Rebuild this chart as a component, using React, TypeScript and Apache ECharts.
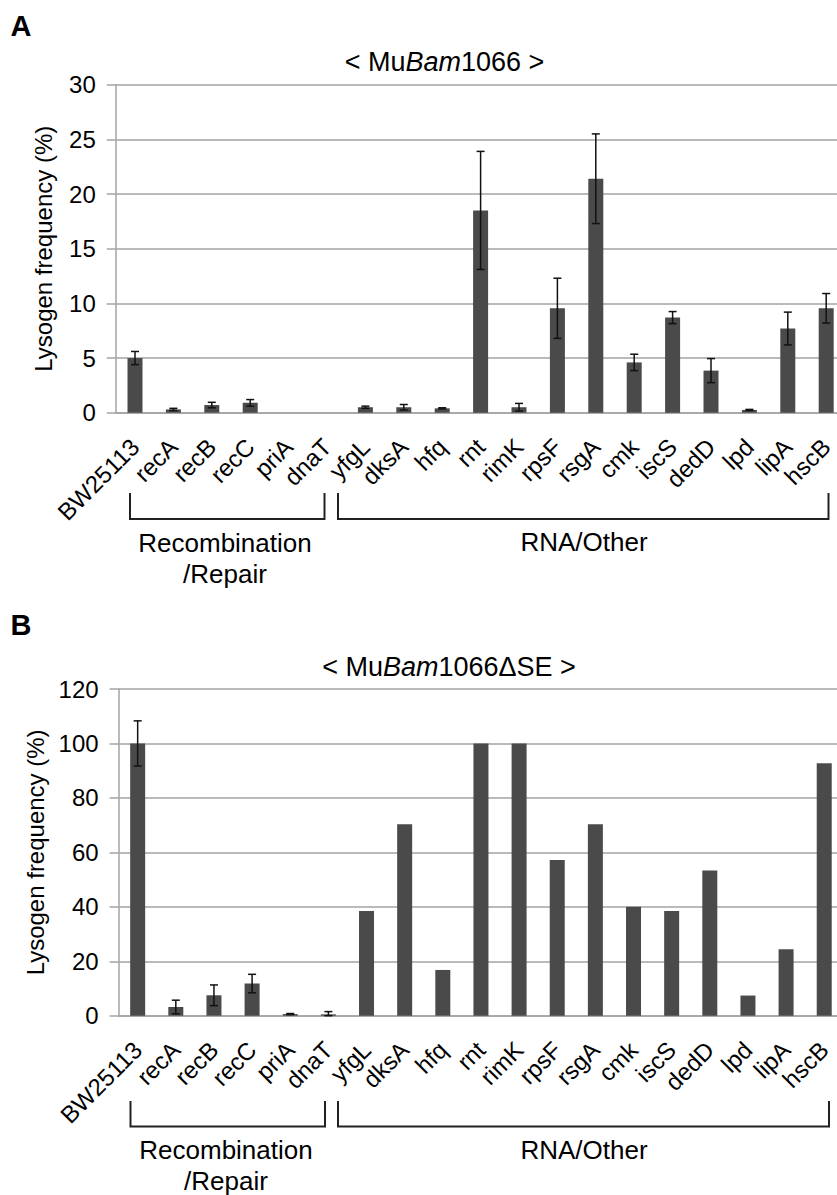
import React, { useEffect, useRef } from "react";
import * as echarts from "echarts";

const categories = ["BW25113", "recA", "recB", "recC", "priA", "dnaT", "yfgL", "dksA", "hfq", "rnt", "rimK", "rpsF", "rsgA", "cmk", "iscS", "dedD", "lpd", "lipA", "hscB"];

// Panel A: < MuBam1066 >
const valuesA = [5.0, 0.3, 0.7, 0.9, 0, 0, 0.5, 0.5, 0.4, 18.5, 0.5, 9.55, 21.4, 4.6, 8.7, 3.85, 0.25, 7.7, 9.55];
const errorsA = [0.6, 0.1, 0.25, 0.3, 0, 0, 0.1, 0.25, 0.05, 5.4, 0.35, 2.75, 4.1, 0.75, 0.55, 1.1, 0.05, 1.5, 1.35];

// Panel B: < MuBam1066ΔSE >
const valuesB = [100, 3.2, 7.5, 11.8, 0.6, 0.5, 38.5, 70.3, 16.8, 100, 100, 57.2, 70.3, 40, 38.5, 53.3, 7.4, 24.4, 92.7];
const errorsB = [8.3, 2.5, 3.8, 3.4, 0.2, 1.0, 0, 0, 0, 0, 0, 0, 0, 0, 0, 0, 0, 0, 0];

const yTicksA = { min: 0, max: 30, interval: 5 };
const yTicksB = { min: 0, max: 120, interval: 20 };

const groupLabels = ["Recombination\n/Repair", "RNA/Other"];

const FONT = 'Arial, "Liberation Sans", sans-serif';
const GRID_COLOR = "#a3a3a3";
const BAR_COLOR = "#4a4a4a";

function errorRenderItem(params: any, api: any) {
  const x = api.value(0);
  const v = api.value(1);
  const e = api.value(2);
  if (!e) return null;
  const top = api.coord([x, v + e]);
  const bot = api.coord([x, Math.max(0, v - e)]);
  const cap = 4;
  const style = { stroke: "#111", lineWidth: 1.5 };
  return {
    type: "group",
    children: [
      { type: "line", shape: { x1: top[0], y1: top[1], x2: bot[0], y2: bot[1] }, style },
      { type: "line", shape: { x1: top[0] - cap, y1: top[1], x2: top[0] + cap, y2: top[1] }, style },
      { type: "line", shape: { x1: bot[0] - cap, y1: bot[1], x2: bot[0] + cap, y2: bot[1] }, style },
    ],
  };
}

function yAxisCfg(gridIndex: number, t: any) {
  return {
    type: "value",
    gridIndex,
    min: t.min,
    max: t.max,
    interval: t.interval,
    name: "Lysogen frequency (%)",
    nameLocation: "middle",
    nameGap: 60,
    nameTextStyle: { fontSize: 24, color: "#000", fontFamily: FONT },
    axisLine: { show: true, lineStyle: { color: GRID_COLOR, width: 1.5 } },
    axisTick: { show: true, length: 9, lineStyle: { color: GRID_COLOR, width: 1.5 } },
    splitLine: { show: true, lineStyle: { color: GRID_COLOR, width: 1.5 } },
    axisLabel: { fontSize: 24, color: "#000", margin: 20, fontFamily: FONT },
  };
}

function xAxisCfg(gridIndex: number) {
  return {
    type: "category",
    gridIndex,
    data: categories,
    axisLine: { show: true, lineStyle: { color: GRID_COLOR, width: 1.5 } },
    axisTick: { show: false },
    axisLabel: { interval: 0, rotate: 45, fontSize: 24, color: "#000", margin: 30, fontFamily: FONT },
  };
}

function bracket(x1: number, x2: number, yTop: number, yBot: number) {
  return {
    type: "polyline",
    shape: { points: [[x1, yTop], [x1, yBot], [x2, yBot], [x2, yTop]] },
    style: { stroke: "#222", lineWidth: 2, fill: null },
  };
}

function txt(text: string, x: number, y: number, size: number, extra: any = {}) {
  return {
    type: "text",
    x,
    y,
    style: { text, fontSize: size, fill: "#000", fontFamily: FONT, align: "center", verticalAlign: "middle", ...extra },
  };
}

export default function App() {
  const ref = useRef<HTMLDivElement>(null);
  useEffect(() => {
    if (!ref.current) return;
    const chart = echarts.init(ref.current, null, { renderer: "svg" });
    const titleRich = {
      n: { fontSize: 27, fontFamily: FONT, fill: "#000" },
      i: { fontSize: 27, fontFamily: FONT, fontStyle: "italic", fill: "#000" },
    };
    const [recLabel, rnaLabel] = groupLabels;
    const recLines = recLabel.split("\n");
    chart.setOption({
      animation: false,
      grid: [
        { left: 115.8, top: 84.7, width: 729.6, height: 328 },
        { left: 118.6, top: 689, width: 724.7, height: 326.7 },
      ],
      xAxis: [xAxisCfg(0), xAxisCfg(1)],
      yAxis: [yAxisCfg(0, yTicksA), yAxisCfg(1, yTicksB)],
      series: [
        { type: "bar", xAxisIndex: 0, yAxisIndex: 0, data: valuesA, barWidth: 15, itemStyle: { color: BAR_COLOR } },
        {
          type: "custom", xAxisIndex: 0, yAxisIndex: 0, renderItem: errorRenderItem,
          encode: { x: 0, y: 1 }, z: 5,
          data: valuesA.map((v, i) => [i, v, errorsA[i]]),
        },
        { type: "bar", xAxisIndex: 1, yAxisIndex: 1, data: valuesB, barWidth: 15, itemStyle: { color: BAR_COLOR } },
        {
          type: "custom", xAxisIndex: 1, yAxisIndex: 1, renderItem: errorRenderItem,
          encode: { x: 0, y: 1 }, z: 5,
          data: valuesB.map((v, i) => [i, v, errorsB[i]]),
        },
      ],
      graphic: [
        txt("A", 21, 26, 29, { fontWeight: "bold" }),
        txt("B", 21, 625, 29, { fontWeight: "bold" }),
        {
          type: "text", x: 444.5, y: 62,
          style: { text: "{n|< Mu}{i|Bam}{n|1066 >}", rich: titleRich, align: "center", verticalAlign: "middle" },
        },
        {
          type: "text", x: 449, y: 667,
          style: { text: "{n|< Mu}{i|Bam}{n|1066ΔSE >}", rich: titleRich, align: "center", verticalAlign: "middle" },
        },
        bracket(130, 324.5, 493, 519),
        bracket(338, 828.5, 493, 519),
        bracket(130.5, 325, 1101, 1126.5),
        bracket(338, 829, 1101, 1126.5),
        txt(recLines[0], 225, 543, 26),
        txt(recLines[1], 225, 574, 26),
        txt(rnaLabel, 584, 541.5, 26),
        txt(recLines[0], 226, 1150, 26),
        txt(recLines[1], 226, 1181, 26),
        txt(rnaLabel, 584, 1150, 26),
      ],
    });
    return () => chart.dispose();
  }, []);
  return (
    <div style={{ position: "absolute", left: 0, top: 0, width: 837, height: 1195, overflow: "hidden", background: "#fff" }}>
      <div ref={ref} style={{ width: 850, height: 1195 }} />
    </div>
  );
}
